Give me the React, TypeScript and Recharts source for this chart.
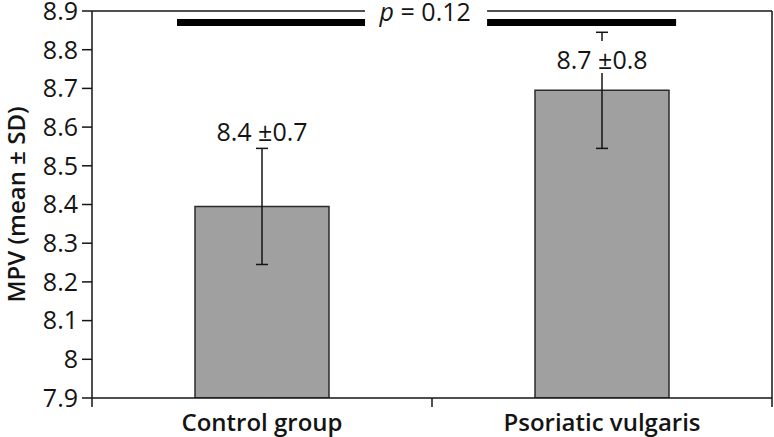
import React from 'react';
import { BarChart, Bar, XAxis, YAxis, ErrorBar, ReferenceLine, ReferenceDot } from 'recharts';

// values
const groups = ['Control group', 'Psoriatic vulgaris'];
const means = [8.395, 8.695];
const sds = [0.15, 0.15];
const valueLabels = ['8.4 ±0.7', '8.7 ±0.8'];
const labelLevels = [8.59, 8.776];
const yTicks = [7.9, 8, 8.1, 8.2, 8.3, 8.4, 8.5, 8.6, 8.7, 8.8, 8.9];
// group slots on the numeric x axis: boundaries at integers, names at the halves
const xTicks = [0, 0.5, 1, 1.5, 2];

// significance bracket, in group units (0..2)
const pText = '= 0.12';
const pAt = 0.98;
const bracketLeft = [0.25, 0.803];
const bracketRight = [1.162, 1.718];
const topLeft = [0, 0.803];
const topRight = [1.162, 2];

const data = groups.map((g, i) => ({ group: g, slot: i + 0.5, mean: means[i], sd: sds[i] }));

const FONT = '"Open Sans", sans-serif';
const INK = '#141414';

const GroupTick = (props: any) => {
  const { x, y, payload } = props;
  const v = payload.value;
  if (Number.isInteger(v)) {
    return <line x1={x} y1={y} x2={x} y2={y + 9} stroke={INK} strokeWidth={1.5} />;
  }
  return (
    <text x={x} y={y + 23} textAnchor="middle" dominantBaseline="central"
      fontFamily={FONT} fontSize={24} fontWeight={600} fill={INK}>
      {groups[Math.floor(v)]}
    </text>
  );
};

const ValueTag = (text: string) => (props: any) => {
  const { cx, cy } = props;
  return (
    <g>
      <rect x={cx - 50} y={cy - 18} width={100} height={32} fill="#fff" />
      <text x={cx} y={cy} textAnchor="middle" dominantBaseline="central" fontFamily={FONT} fontSize={25} fill={INK}>
        {text}
      </text>
    </g>
  );
};

const PTag = (props: any) => {
  const { cx, cy } = props;
  return (
    <text x={cx} y={cy} textAnchor="middle" dominantBaseline="central" fontFamily={FONT} fontSize={25} fill={INK}>
      <tspan fontStyle="italic">p</tspan> {pText}
    </text>
  );
};

const YLabel = (props: any) => {
  const vb = props.viewBox || {};
  const x = (vb.x || 0) + 15;
  const y = (vb.y || 0) + (vb.height || 0) / 2;
  return (
    <text x={x} y={y} transform={`rotate(-90 ${x} ${y})`} textAnchor="middle" dominantBaseline="central"
      fontFamily={FONT} fontSize={24} fontWeight={600} fill={INK}>
      MPV (mean ± SD)
    </text>
  );
};

export default function App() {
  return (
    <div style={{ position: 'absolute', left: 0, top: 0, width: 774, height: 437, background: '#fff' }}>
      <BarChart width={774} height={437} data={data} margin={{ top: 11, right: 2, bottom: 0, left: 0 }}>
        <XAxis xAxisId="num" dataKey="slot" type="number" domain={[0, 2]} ticks={xTicks} interval={0} allowDataOverflow
          height={39} tickSize={0} tickMargin={0} tickLine={false}
          axisLine={{ stroke: INK, strokeWidth: 1.5 }} tick={<GroupTick />} />
        <XAxis xAxisId="cat" dataKey="group" hide height={0} />
        <YAxis domain={[7.9, 8.9]} ticks={yTicks} interval={0} width={92} allowDataOverflow
          tickSize={10} tickMargin={4}
          axisLine={{ stroke: INK, strokeWidth: 1.5 }} tickLine={{ stroke: INK, strokeWidth: 1.5 }}
          tick={{ fontFamily: FONT, fontSize: 25, fill: INK }}
          label={<YLabel />} />
        <Bar xAxisId="cat" dataKey="mean" barSize={134} fill="#a0a0a0" stroke="#2b2b2b" strokeWidth={1.5} isAnimationActive={false}>
          <ErrorBar dataKey="sd" width={6} stroke={INK} strokeWidth={1.5} isAnimationActive={false} />
        </Bar>
        {groups.map((g, i) => (
          <ReferenceDot key={g} xAxisId="cat" x={g} y={labelLevels[i]} r={0} shape={ValueTag(valueLabels[i])} />
        ))}
        <ReferenceLine xAxisId="num" segment={[{ x: topLeft[0], y: 8.9 }, { x: topLeft[1], y: 8.9 }]} stroke={INK} strokeWidth={1.5} />
        <ReferenceLine xAxisId="num" segment={[{ x: topRight[0], y: 8.9 }, { x: topRight[1], y: 8.9 }]} stroke={INK} strokeWidth={1.5} />
        <ReferenceLine xAxisId="num" x={2} stroke={INK} strokeWidth={1.5} />
        <ReferenceLine xAxisId="num" segment={[{ x: bracketLeft[0], y: 8.87 }, { x: bracketLeft[1], y: 8.87 }]} stroke="#000" strokeWidth={7} />
        <ReferenceLine xAxisId="num" segment={[{ x: bracketRight[0], y: 8.87 }, { x: bracketRight[1], y: 8.87 }]} stroke="#000" strokeWidth={7} />
        <ReferenceDot xAxisId="num" x={pAt} y={8.9} r={0} shape={PTag} />
      </BarChart>
    </div>
  );
}
